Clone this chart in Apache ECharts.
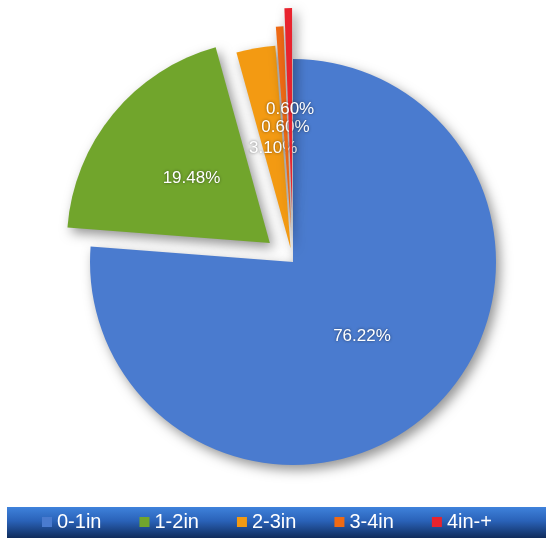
<!DOCTYPE html>
<html>
<head>
<meta charset="utf-8">
<script src="https://cdn.jsdelivr.net/npm/echarts@6/dist/echarts.min.js"></script>
<style>html,body{margin:0;padding:0;background:#fff;}#c{width:546px;height:538px;}</style>
</head>
<body>
<div id="c"></div>
<script>
var categories = ['0-1in', '1-2in', '2-3in', '3-4in', '4in-+'];
var values = [76.22, 19.48, 3.10, 0.60, 0.60];
var colors = ['#4a7bcf', '#71a52c', '#f39a12', '#f06a14', '#e8232e'];
var explode = [0, 30, 14, 33, 51];

var CX = 293, CY = 262, R = 203;
var total = values.reduce(function (a, b) { return a + b; }, 0);
// mid angle of each slice (radians, clockwise from 12 o'clock)
var mids = [];
(function () {
  var acc = 0;
  values.forEach(function (v) {
    mids.push((acc + v / 2) / total * Math.PI * 2);
    acc += v;
  });
})();

var chart = echarts.init(document.getElementById('c'), null, {renderer: 'canvas'});

var series = categories.map(function (target, ti) {
  var cx = CX + explode[ti] * Math.sin(mids[ti]);
  var cy = CY - explode[ti] * Math.cos(mids[ti]);
  var lx = cx + R / 2 * Math.sin(mids[ti]);
  var ly = cy - R / 2 * Math.cos(mids[ti]);
  return {
    type: 'pie',
    center: [cx, cy],
    radius: [0, R],
    startAngle: 90,
    clockwise: true,
    avoidLabelOverlap: false,
    silent: true,
    animation: false,
    z: 2 + ti,
    labelLine: {show: false},
    labelLayout: function () {
      return {x: lx, y: ly, align: 'center', verticalAlign: 'middle'};
    },
    data: categories.map(function (name, i) {
      var on = i === ti;
      return {
        name: name,
        value: values[i],
        itemStyle: on ? {
          color: colors[i],
          shadowBlur: 12,
          shadowColor: 'rgba(0,0,0,0.42)',
          shadowOffsetX: 4,
          shadowOffsetY: 5
        } : {color: 'rgba(0,0,0,0)'},
        label: on ? {
          show: true,
          position: 'inside',
          color: '#fff',
          fontFamily: 'Liberation Sans, Arial, sans-serif',
          fontSize: 17,
          textShadowColor: 'rgba(0,0,0,0.55)',
          textShadowBlur: 3,
          formatter: function (p) { return p.value.toFixed(2) + '%'; }
        } : {show: false}
      };
    })
  };
});

chart.setOption({
  backgroundColor: '#fff',
  graphic: [{
    type: 'rect',
    shape: {x: 7, y: 507, width: 539, height: 31},
    style: {
      fill: new echarts.graphic.LinearGradient(0, 0, 0, 1, [
        {offset: 0, color: '#3f82db'},
        {offset: 0.45, color: '#2a62b8'},
        {offset: 1, color: '#0f2c5c'}
      ])
    },
    z: 1
  }],
  legend: {
    left: 42,
    top: 512,
    padding: 0,
    icon: 'rect',
    itemWidth: 10,
    itemHeight: 10,
    itemGap: 38,
    z: 10,
    textStyle: {color: '#fff', fontSize: 20, fontFamily: 'Liberation Sans, Arial, sans-serif'},
    selectedMode: false,
    data: categories.map(function (n, i) {
      return {name: n, itemStyle: {color: colors[i]}};
    })
  },
  series: series
});
</script>
</body>
</html>
